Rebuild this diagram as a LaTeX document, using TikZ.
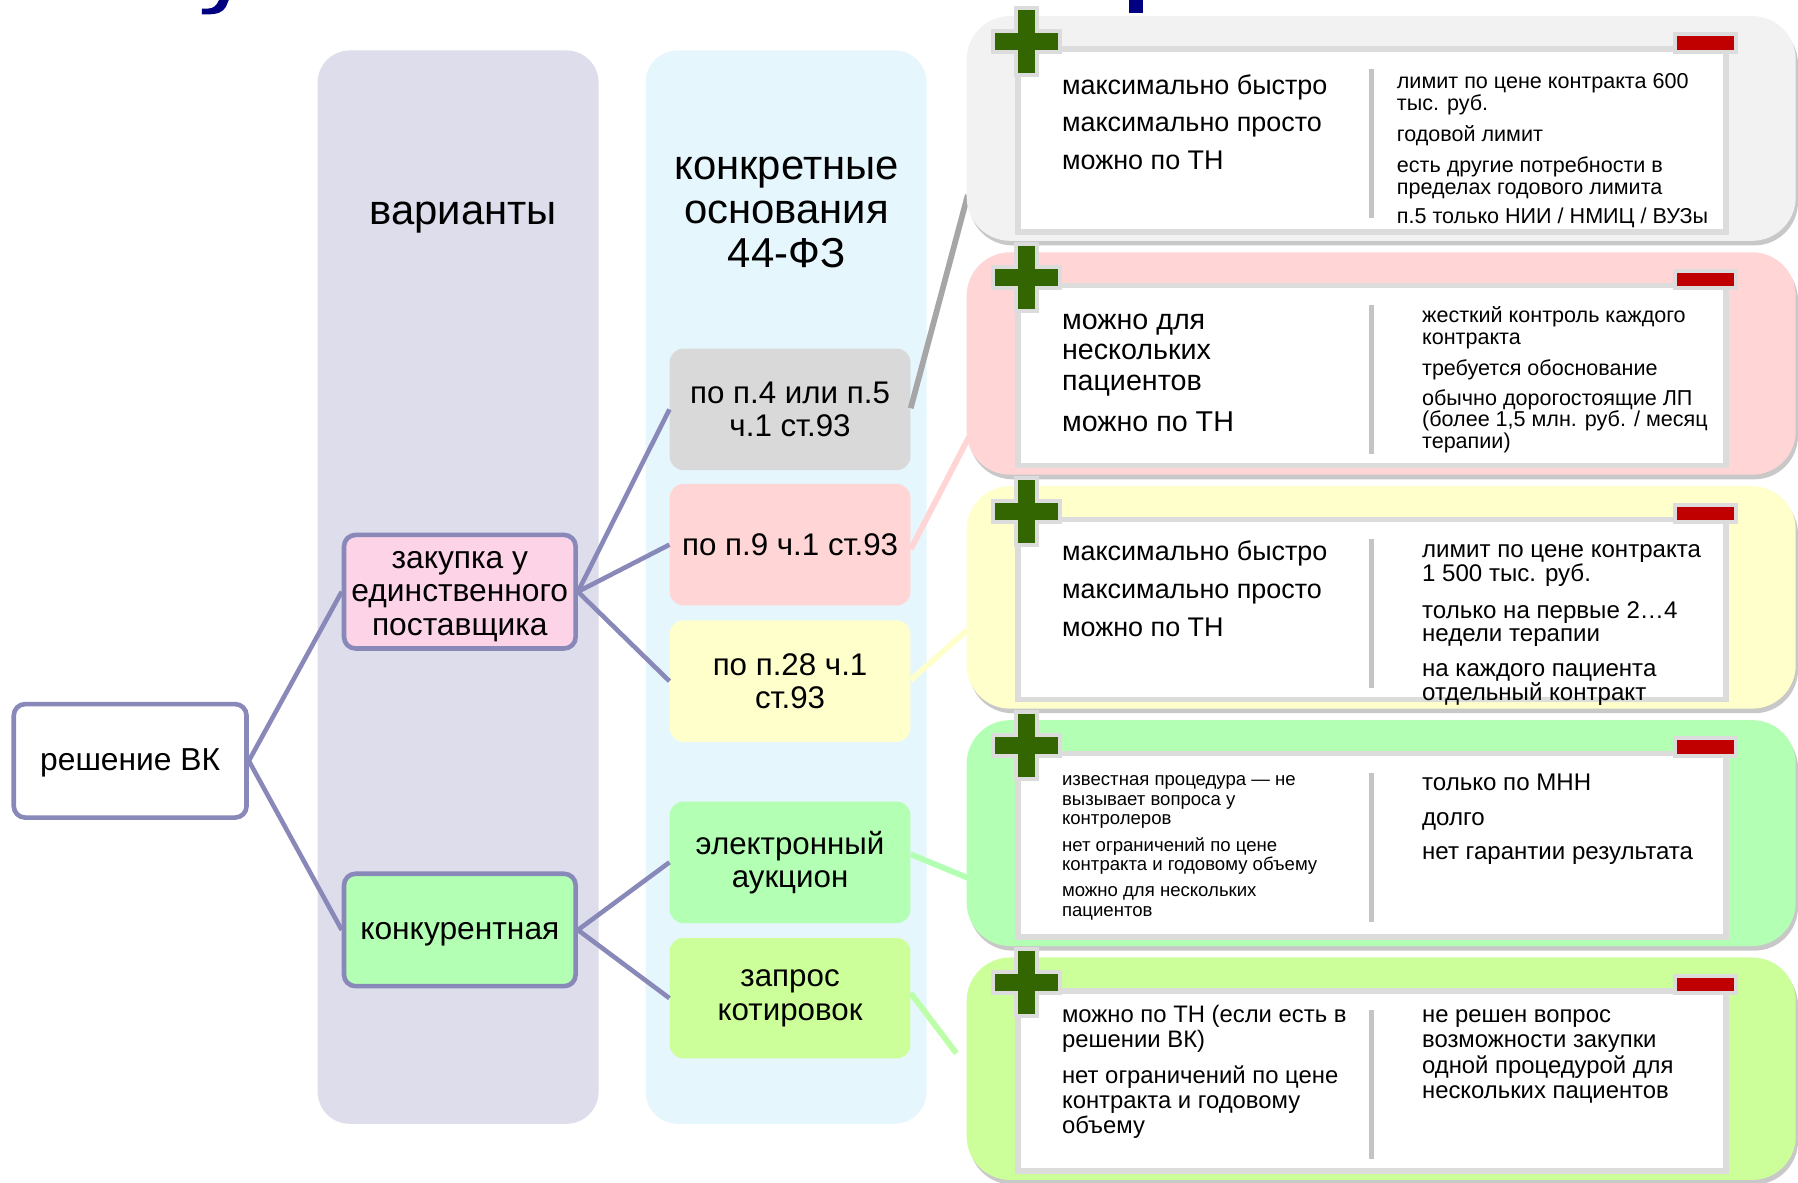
\documentclass[tikz,border=0pt]{standalone}
\usepackage{fontspec}
\setmainfont{Liberation Sans}
\usetikzlibrary{shadows,calc}
\definecolor{navyt}{HTML}{000080}
\definecolor{colA}{HTML}{DEDDEB}
\definecolor{colB}{HTML}{E5F6FD}
\definecolor{purp}{HTML}{8888B9}
\definecolor{pinkA}{HTML}{FDD3E8}
\definecolor{greenA}{HTML}{B3FFB3}
\definecolor{greyB}{HTML}{D9D9D9}
\definecolor{pinkB}{HTML}{FFD5D5}
\definecolor{yellowB}{HTML}{FFFFCC}
\definecolor{limeB}{HTML}{CCFF99}
\definecolor{panelgrey}{HTML}{F2F2F2}
\definecolor{lineg}{HTML}{A6A6A6}
\definecolor{bordg}{HTML}{DCDCDC}
\definecolor{sepg}{HTML}{C4C4C4}
\definecolor{plusg}{HTML}{336600}
\definecolor{minusr}{HTML}{C00000}
\newcommand\fsz[2]{\fontsize{#1}{#2}\selectfont}
\newcommand\fl{\rule{0pt}{0.8em}}
\newcommand\txtdown[2]{\raisebox{-#1}[\height][\depth]{#2}}
\newcommand\pminner[2]{%
  \draw[wbox] (888,{#1+29}) rectangle (1505,{#2-8});
  \draw[sepline] (1196,{#1+46}) -- (1196,{#1+176});
  \filldraw[plusst, shift={(895,{#1+22})}] (-9,-29) -- (9,-29) -- (9,-9) -- (29,-9) -- (29,9) -- (9,9) -- (9,29) -- (-9,29) -- (-9,9) -- (-29,9) -- (-29,-9) -- (-9,-9) -- cycle;
  \filldraw[minusst] (1461,{#1+16}) rectangle (1514,{#1+31});
}
\begin{document}
\begin{tikzpicture}[x=1pt,y=-1pt,
  vbox/.style={draw=purp, line width=4pt, rounded corners=10pt, minimum width=202pt, minimum height=99pt, inner sep=0pt, align=center, font=\fsz{27.7}{29}},
  cbox/.style={rounded corners=12pt, minimum width=210pt, minimum height=106pt, inner sep=0pt, align=center, font=\fsz{27.3}{29}},
  panel/.style={rounded corners=38pt, minimum width=723pt, minimum height=#1, inner sep=0pt,
     drop shadow={shadow xshift=2pt, shadow yshift=-4pt, opacity=0.3, fill=black!70}},
  wbox/.style={fill=white, draw=bordg, line width=5pt},
  sepline/.style={draw=sepg, line width=4pt},
  plusst/.style={fill=plusg, draw=bordg, line width=3.5pt},
  minusst/.style={fill=minusr, draw=bordg, line width=3.5pt},
  conn/.style={draw=purp, line width=4pt},
  pconn/.style={line width=5pt},
  ptext/.style={anchor=north west, inner sep=0pt, align=left},
]
\useasboundingbox (0,0) rectangle (1568,1031);
\fill[white] (0,0) rectangle (1568,1031);

% title fragments (cut off at the top)
\fill[navyt] (191,0) -- (199.5,0) -- (197,6) .. controls (194,11) and (189,12.5) .. (181,12.5) -- (176,12.5) -- (176,7.5) -- (181,7.5) .. controls (186,7.5) and (189,5) .. (191,0) -- cycle;
\fill[navyt] (985,0) rectangle (997,11);

% background columns
\fill[colA, rounded corners=28pt] (277,44) rectangle (522,980);
\fill[colB, rounded corners=28pt] (563,44) rectangle (808,980);

\node[anchor=base, font=\fsz{36.5}{38}, inner sep=0pt] (hA) at (404,195.5) {варианты};
\node[anchor=north, align=center, font=\fsz{36.5}{38}, inner sep=0pt] (hB) at (686,127.5) {\fl конкретные\\основания\\44-ФЗ};

% first-level nodes
\node[vbox, fill=white, minimum width=203pt] (vk) at (113.5,663.5) {\txtdown{2pt}{решение ВК}};
\node[vbox, fill=pinkA] (zak) at (401,516) {\txtdown{3pt}{\begin{tabular}{@{}c@{}}закупка у\\единственного\\поставщика\end{tabular}}};
\node[vbox, fill=greenA, minimum height=98pt] (kon) at (401,811) {\txtdown{4pt}{конкурентная}};

% second-level nodes
\node[cbox, fill=greyB] (b4) at (689,357) {по п.4 или п.5\\ч.1 ст.93};
\node[cbox, fill=pinkB] (b9) at (689,475) {по п.9 ч.1 ст.93};
\node[cbox, fill=yellowB] (b28) at (689,594) {по п.28 ч.1\\ст.93};
\node[cbox, fill=greenA] (bauk) at (689,752) {электронный\\аукцион};
\node[cbox, fill=limeB, minimum height=105pt] (bzap) at (689,870.5) {запрос\\котировок};

% connectors
\draw[conn] (vk.east) -- (zak.west);
\draw[conn] (vk.east) -- (kon.west);
\draw[conn] (zak.east) -- (b4.west);
\draw[conn] (zak.east) -- (b9.west);
\draw[conn] (zak.east) -- (b28.west);
\draw[conn] (kon.east) -- (bauk.west);
\draw[conn] (kon.east) -- (bzap.west);

\coordinate (e1) at (844,170);
\coordinate (e2) at (845,381);
\coordinate (e3) at (844,549);
\coordinate (e4) at (845,766);
\coordinate (e5) at (834,918.5);
\draw[pconn, lineg] ($(b4.east)+(0,-1)$) -- (e1);
\draw[pconn, pinkB] ($(b9.east)+(0,4)$) -- (e2);
\draw[pconn, yellowB] ($(b28.east)+(0,-1)$) -- (e3);
\draw[pconn, greenA] ($(bauk.east)+(0,-7)$) -- (e4);
\draw[pconn, greenA!60!limeB] ($(bzap.east)+(0,-4.5)$) -- (e5);

% panels
\node[panel=196pt, fill=panelgrey] (p1) at (1204.5,112) {};
\pminner{14}{210}
\node[panel=194pt, fill=pinkB] (p2) at (1204.5,317) {};
\pminner{220}{414}
\node[panel=194pt, fill=yellowB] (p3) at (1204.5,521) {};
\pminner{424}{618}
\node[panel=197pt, fill=greenA] (p4) at (1204.5,726.5) {};
\pminner{628}{825}
\node[panel=194pt, fill=limeB] (p5) at (1204.5,932) {};
\pminner{835}{1029}

% panel texts
\node[ptext, font=\fsz{23.5}{33}] (t1l) at (926,63) {\fl максимально быстро\\максимально просто\\можно по ТН};
\node[ptext, font=\fsz{18.8}{19}] (t1r) at (1218,62) {\fl лимит по цене контракта 600\\тыс. руб.\\[8pt]годовой лимит\\[8pt]есть другие потребности в\\пределах годового лимита\\[7pt]п.5 только НИИ / НМИЦ / ВУЗы};

\node[ptext, font=\fsz{25}{26.5}] (t2l) at (926,267) {\fl можно для\\нескольких\\пациентов\\[9.5pt]можно по ТН};
\node[ptext, font=\fsz{18.8}{19}] (t2r) at (1240,266) {\fl жесткий контроль каждого\\контракта\\[8pt]требуется обоснование\\[7pt]обычно дорогостоящие ЛП\\(более 1,5 млн. руб. / месяц\\терапии)};

\node[ptext, font=\fsz{23.5}{33.5}] (t3l) at (926,469.5) {\fl максимально быстро\\максимально просто\\можно по ТН};
\node[ptext, font=\fsz{21}{20.5}] (t3r) at (1240,469.5) {\fl лимит по цене контракта\\1 500 тыс. руб.\\[11.5pt]только на первые 2…4\\недели терапии\\[10pt]на каждого пациента\\отдельный контракт};

\node[ptext, font=\fsz{16.2}{17}] (t4l) at (926,672) {\fl известная процедура — не\\вызывает вопроса у\\контролеров\\[6pt]нет ограничений по цене\\контракта и годовому объему\\[6pt]можно для нескольких\\пациентов};
\node[ptext, font=\fsz{21}{30}] (t4r) at (1240,672.5) {\fl только по МНН\\долго\\нет гарантии результата};

\node[ptext, font=\fsz{20.8}{22}] (t5l) at (926,875) {\fl можно по ТН (если есть в\\решении ВК)\\[9pt]нет ограничений по цене\\контракта и годовому\\объему};
\node[ptext, font=\fsz{20.8}{22}] (t5r) at (1240,875) {\fl не решен вопрос\\возможности закупки\\одной процедурой для\\нескольких пациентов};
\end{tikzpicture}
\end{document}
